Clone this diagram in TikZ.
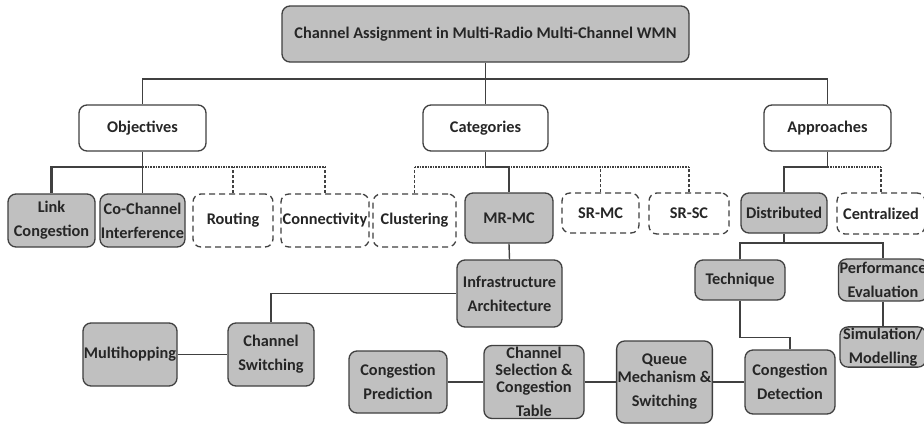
\documentclass[tikz,border=0pt]{standalone}
\usepackage{fontspec}
\setmainfont{Carlito}
\definecolor{boxgray}{HTML}{C0C0C0}
\definecolor{edgegray}{HTML}{404040}
\tikzset{
	base/.style={rounded corners=8pt, line width=1.3pt, draw=edgegray, align=center, inner sep=1pt,
		font=\bfseries\fontsize{16.3}{24}\selectfont, text=black!85},
	graybox/.style={base, fill=boxgray},
	whitebox/.style={base, fill=white},
	dashbox/.style={base, fill=white, dash pattern=on 6pt off 4pt},
	conn/.style={line width=1.4pt, draw=edgegray},
	dotconn/.style={conn, line width=1.6pt, densely dotted},
	dashconn/.style={conn, dash pattern=on 3pt off 2pt},
}

\begin{document}
\begin{tikzpicture}[x=1pt,y=-1pt]
	\fill[white] (0,0) rectangle (924,424);
	\useasboundingbox (0,0) rectangle (924,424);
	
	% top and second level
	\node[graybox, minimum width=407pt, minimum height=56pt] (title) at (485.5,34) {Channel Assignment in Multi-Radio Multi-Channel WMN};
	\node[whitebox, minimum width=127pt, minimum height=46pt] (obj) at (142.5,128) {Objectives};
	\node[whitebox, minimum width=125pt, minimum height=46pt] (cat) at (485.5,128) {Categories};
	\node[whitebox, minimum width=127pt, minimum height=46pt] (app) at (827.5,128) {Approaches};
	
	% objectives
	\node[graybox, minimum width=87pt, minimum height=53pt] (link) at (51.5,220.5) {Link\\Congestion};
	\node[graybox, minimum width=83pt, minimum height=53pt] (cochan) at (142.5,220.5) {Co-Channel\\Interference};
	\node[dashbox, minimum width=80pt, minimum height=53pt] (routing) at (233,220.5) {Routing};
	\node[dashbox, minimum width=88pt, minimum height=53pt] (connect) at (325,220.5) {Connectivity};
	
	% categories
	\node[dashbox, minimum width=83pt, minimum height=53pt] (clust) at (414.5,220.5) {Clustering};
	\node[graybox, minimum width=88pt, minimum height=50pt] (mrmc) at (509,218) {MR-MC};
	\node[dashbox, minimum width=77pt, minimum height=40pt] (srmc) at (600.5,213) {SR-MC};
	\node[dashbox, minimum width=80pt, minimum height=41pt] (srsc) at (689,213.5) {SR-SC};
	\node[graybox, minimum width=105pt, minimum height=67pt] (infra) at (509.5,293.5) {Infrastructure\\Architecture};
	\node[graybox, minimum width=86pt, minimum height=63pt] (chsw) at (271,354.5) {Channel\\Switching};
	\node[graybox, minimum width=94pt, minimum height=63pt] (multi) at (130,354.5) {Multihopping};
	
	% approaches
	\node[graybox, minimum width=86pt, minimum height=40pt] (dist) at (784,213) {Distributed};
	\node[dashbox, minimum width=88pt, minimum height=41pt] (cent) at (881,213.5) {Centralized};
	\node[graybox, minimum width=90pt, minimum height=40pt] (tech) at (740,280) {Technique};
	\node[graybox, minimum width=86pt, minimum height=42pt] (perf) at (883,280) {Performance\\Evaluation};
	\node[graybox, minimum width=86pt, minimum height=40pt] (sim) at (883,347) {Simulation/\\Modelling};
	
	% bottom chain
	\node[graybox, minimum width=98pt, minimum height=62pt] (cpred) at (398,382) {Congestion\\Prediction};
	\node[graybox, minimum width=100pt, minimum height=73pt] (csel) at (534,382) {Channel\\[-7pt]Selection \&\\[-7pt]Congestion\\Table};
	\node[graybox, minimum width=91pt, minimum height=82pt] (queue) at (664.5,382) {Queue\\[-6pt]Mechanism \&\\Switching};
	\node[graybox, minimum width=90pt, minimum height=64pt] (cdet) at (790,382) {Congestion\\Detection};
	
	\coordinate (topbus) at (485.5,79);
	\coordinate (objbus) at (142.5,167);
	\coordinate (catbus) at (485.5,167);
	\coordinate (appbus) at (827.5,167);
	\coordinate (distbus) at (784,243);
	
	\draw[conn] (title.south) -- (cat.north);
	\draw[conn] (obj.north) |- (topbus) -| (app.north);
	
	\draw[dotconn] (objbus) -- (objbus -| connect.north);
	\draw[dashconn] (routing.north) -- (routing.north |- objbus);
	\draw[dashconn] (connect.north) -- (connect.north |- objbus);
	\draw[conn] (obj.south) -- (cochan.north);
	\draw[conn, line width=2.4pt] (objbus) -| (link.north);
	
	\draw[dotconn] (catbus -| clust.north) -- (catbus -| srsc.north);
	\draw[dashconn] (clust.north) -- (clust.north |- catbus);
	\draw[dashconn] (srmc.north) -- (srmc.north |- catbus);
	\draw[dashconn] (srsc.north) -- (srsc.north |- catbus);
	\draw[conn] (cat.south) -- (catbus) -| (mrmc.north);
	\draw[conn] (mrmc.south) -- (infra.north);
	\draw[conn] (infra.west) -| (chsw.north);
	\draw[conn] (multi.east) -- (chsw.west);
	
	\draw[dotconn] (appbus) -- (appbus -| cent.north);
	\draw[dashconn] (cent.north) -- (cent.north |- appbus);
	\draw[conn] (app.south) -- (appbus) -| (dist.north);
	\draw[conn] (dist.south) -- (distbus);
	\draw[conn] (tech.north) |- (distbus) -| (perf.north);
	\draw[conn] (perf.south) -- (sim.north);
	\draw[conn] (tech.south) -- ++(0,37) -| (cdet.north);
	
	\draw[conn] (cpred.east) -- (csel.west);
	\draw[conn] (csel.east) -- (queue.west);
	\draw[conn] (queue.east) -- (cdet.west);
\end{tikzpicture}
\end{document}
